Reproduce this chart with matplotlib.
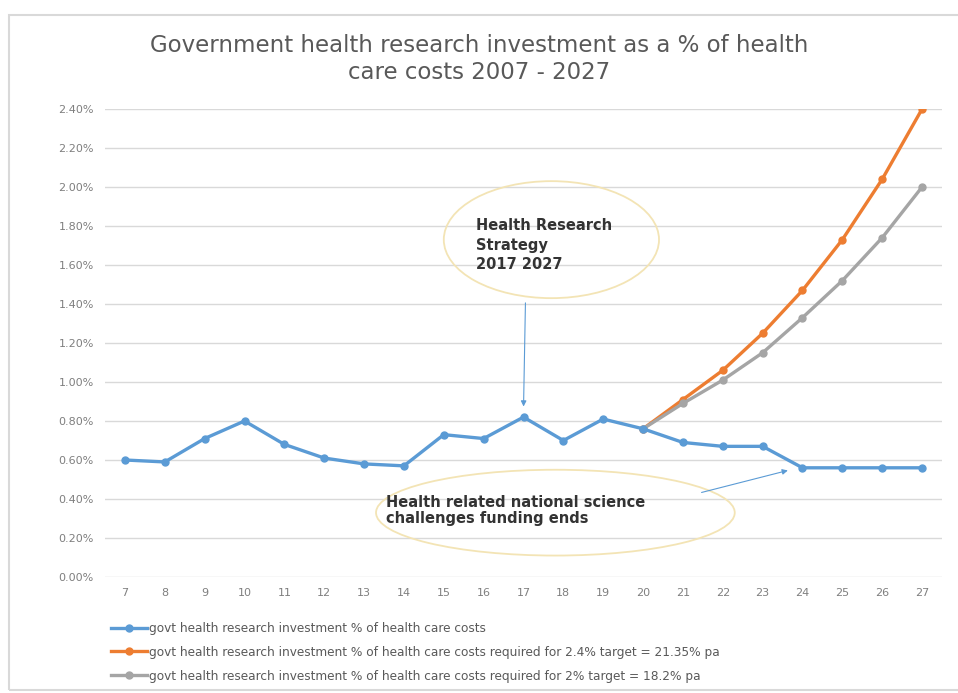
import matplotlib.pyplot as plt
from matplotlib.patches import Ellipse, Rectangle
from matplotlib.ticker import FuncFormatter

# data (values in %)
years = list(range(7, 28))
actual = [0.60, 0.59, 0.71, 0.80, 0.68, 0.61, 0.58, 0.57, 0.73, 0.71, 0.82,
          0.70, 0.81, 0.76, 0.69, 0.67, 0.67, 0.56, 0.56, 0.56, 0.56]
proj_years = list(range(20, 28))
target_24 = [0.76, 0.91, 1.06, 1.25, 1.47, 1.73, 2.04, 2.40]
target_20 = [0.76, 0.89, 1.01, 1.15, 1.33, 1.52, 1.74, 2.00]
y_ticks = [i * 0.2 for i in range(13)]

labels = ['govt health research investment % of health care costs',
          'govt health research investment % of health care costs required for 2.4% target = 21.35% pa',
          'govt health research investment % of health care costs required for 2% target = 18.2% pa']

fig = plt.figure(figsize=(9.58, 6.93), dpi=100)
fig.patches.append(Rectangle((9 / 958, 3 / 693), 1.0, 675 / 693, transform=fig.transFigure,
                             fill=False, edgecolor='#d9d9d9', linewidth=1.5))
ax = fig.add_axes([105 / 958, 1 - 577 / 693, 837 / 958, 468 / 693])

ax.plot(years, actual, color='#5b9bd5', lw=2.4, marker='o', ms=5, label=labels[0], zorder=3)
ax.plot(proj_years, target_24, color='#ed7d31', lw=2.4, marker='o', ms=5, label=labels[1], zorder=2)
ax.plot(proj_years, target_20, color='#a5a5a5', lw=2.4, marker='o', ms=5, label=labels[2], zorder=2)

ax.set_xlim(6.5, 27.5)
ax.set_ylim(0, 2.4)
ax.set_xticks(years)
ax.set_yticks(y_ticks)
ax.yaxis.set_major_formatter(FuncFormatter(lambda v, p: f'{v:.2f}%'))
ax.tick_params(length=0, labelsize=8, labelcolor='#7f7f7f', pad=8)
ax.grid(axis='y', color='#d9d9d9', lw=1)
for s in ax.spines.values():
    s.set_visible(False)
ax.set_axisbelow(True)

# annotations
ax.add_patch(Ellipse((17.7, 1.73), 5.4, 0.6, fill=False, edgecolor='#f3e4b5', lw=1.3))
ax.text(15.8, 1.58, 'Health Research\nStrategy\n2017 2027', fontsize=10.5, color='#333333',
        fontweight='bold', linespacing=1.35)
ax.annotate('', xy=(17, 0.86), xytext=(17.05, 1.42),
            arrowprops=dict(arrowstyle='-|>', color='#5b9bd5', lw=0.8, mutation_scale=8))

ax.add_patch(Ellipse((17.8, 0.33), 9.0, 0.44, fill=False, edgecolor='#f3e4b5', lw=1.3))
ax.text(13.55, 0.275, 'Health related national science\nchallenges funding ends', fontsize=10.5,
        color='#333333', fontweight='bold', linespacing=1.15)
ax.annotate('', xy=(23.7, 0.55), xytext=(21.4, 0.43),
            arrowprops=dict(arrowstyle='-|>', color='#5b9bd5', lw=0.8, mutation_scale=8))

fig.text(0.5, 1 - 59 / 693, 'Government health research investment as a % of health\ncare costs 2007 - 2027',
         ha='center', va='center', fontsize=16.5, color='#595959', linespacing=1.25)

fig.legend(loc='upper left', bbox_to_anchor=(106 / 958, 1 - 617 / 693), frameon=False,
           fontsize=8.7, labelcolor='#595959', handlelength=3.0, handletextpad=0.15,
           labelspacing=0.9, borderaxespad=0)

fig.savefig('out.png', dpi=100)
